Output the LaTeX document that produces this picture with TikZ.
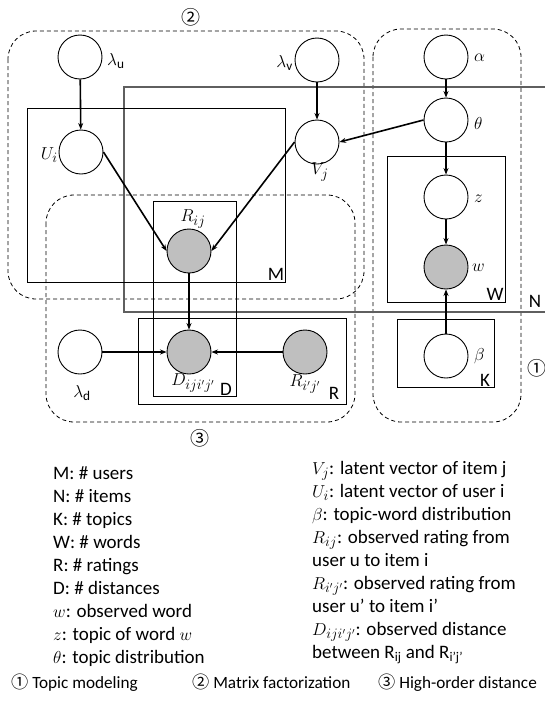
\documentclass[tikz,border=0pt]{standalone}
\usepackage{fontspec}
\setmainfont{Carlito}
\newfontfamily\circfont{Noto Sans CJK SC}
\usetikzlibrary{arrows.meta}
\definecolor{obsgray}{RGB}{191,191,191}
\definecolor{nplate}{RGB}{95,95,95}
\begin{document}
\begin{tikzpicture}[x=1pt,y=-1pt,
  var/.style={circle,draw,line width=0.9pt,minimum size=44pt,inner sep=0pt,fill=white},
  obs/.style={var,fill=obsgray},
  plate/.style={draw,line width=1pt},
  grp/.style={draw,line width=0.8pt,dash pattern=on 4pt off 3pt,rounded corners=28pt},
  edge/.style={line width=1.6pt,-{Stealth[length=6.5pt,width=5pt]}},
  lbl/.style={font=\fontsize{19}{22}\selectfont,inner sep=0pt},
  circ/.style={font=\circfont\fontsize{19}{22}\selectfont,inner sep=0pt},
  legend/.style={font=\fontsize{19}{23}\selectfont,inner sep=0pt,anchor=base west},
  bottom/.style={font=\fontsize{17.2}{21}\selectfont,inner sep=0pt,anchor=base west}
]
\useasboundingbox (0,0) rectangle (544,702);

% groups (dashed)
\draw[grp] (8,31) rectangle (364,299);
\draw[grp] (46,195) rectangle (355,422);
\draw[grp] (373,29) rectangle (521,422);

% plates
\draw[plate,draw=nplate,line width=1.3pt] (560,87) -- (124,87) -- (124,312) -- (560,312);
\draw[plate] (27,108) rectangle (285,282);
\draw[plate] (153,201) rectangle (236,396);
\draw[plate] (138,318) rectangle (346,404);
\draw[plate] (387,156) rectangle (505,302);
\draw[plate] (397,319) rectangle (494,387);

% plate labels
\node[lbl] (lM) at (276,274) {M};
\node[lbl] (lW) at (495,294) {W};
\node[lbl] (lN) at (535,301) {N};
\node[lbl] (lD) at (226,389) {D};
\node[lbl] (lR) at (334,393) {R};
\node[lbl] (lK) at (485,380) {K};

% group labels
\node[circ] (g2) at (191,17) {②};
\node[circ] (g3) at (200,438) {③};
\node[circ] (g1) at (537,368) {①};

% variables
\node[var] (lu) at (80,57) {};
\node[var] (Ui) at (81,152) {};
\node[var] (lv) at (317,60) {};
\node[var] (Vj) at (317,142) {};
\node[var] (alpha) at (446,57) {};
\node[var] (theta) at (446,120) {};
\node[var] (z) at (446,197) {};
\node[obs] (w) at (446,267) {};
\node[var] (beta) at (446,356) {};
\node[obs] (Rij) at (189,251) {};
\node[obs] (D) at (189,352) {};
\node[obs] (Rp) at (305,352) {};
\node[var] (ld) at (80,352) {};

% variable labels
\node[lbl,anchor=west] (tlu) at (107,61) {$\lambda_{\mathrm{u}}$};
\node[lbl,anchor=east] (tlv) at (293,63) {$\lambda_{\mathrm{v}}$};
\node[lbl,anchor=east] (tUi) at (58,155) {$U_i$};
\node[lbl] (tVj) at (320,172) {$V_j$};
\node[lbl,anchor=west] (talpha) at (474,58) {$\alpha$};
\node[lbl,anchor=west] (ttheta) at (474,123) {$\theta$};
\node[lbl,anchor=west] (tz) at (474,199) {$z$};
\node[lbl,anchor=west] (tw) at (472,268) {$w$};
\node[lbl,anchor=west] (tbeta) at (474,356) {$\beta$};
\node[lbl] (tRij) at (193,219) {$R_{ij}$};
\node[lbl] (tD) at (193,383) {$D_{iji'j'}$};
\node[lbl] (tRp) at (305,384) {$R_{i'j'}$};
\node[lbl] (tld) at (82,393) {$\lambda_{\mathrm{d}}$};

% edges
\draw[edge] (lu) -- (Ui);
\draw[edge] (lv) -- (Vj);
\draw[edge] (alpha) -- (theta);
\draw[edge] (theta.west) -- (Vj.east);
\draw[edge] (theta) -- (z);
\draw[edge] (z) -- (w);
\draw[edge] (beta) -- (w);
\draw[edge] (Ui.east) -- (Rij.west);
\draw[edge] (Vj.west) -- (Rij.east);
\draw[edge] (Rij) -- (D);
\draw[edge] (ld) -- (D);
\draw[edge] (Rp) -- (D);

% legend left
\node[legend] (a1) at (53,479) {M: \# users};
\node[legend] (a2) at (53,502) {N: \# items};
\node[legend] (a3) at (53,525) {K: \# topics};
\node[legend] (a4) at (53,548) {W: \# words};
\node[legend] (a5) at (53,571) {R: \# ratings};
\node[legend] (a6) at (53,594) {D: \# distances};
\node[legend] (a7) at (53,617) {$w$: observed word};
\node[legend] (a8) at (53,640) {$z$: topic of word $w$};
\node[legend] (a9) at (53,663) {$\theta$: topic distribution};

% legend right
\node[legend] (b1) at (312,474) {$V_j$: latent vector of item j};
\node[legend] (b2) at (312,497) {$U_i$: latent vector of user i};
\node[legend] (b3) at (312,520) {$\beta$: topic-word distribution};
\node[legend] (b4) at (312,543) {$R_{ij}$: observed rating from};
\node[legend] (b5) at (312,566) {user u to item i};
\node[legend] (b6) at (312,589) {$R_{i'j'}$: observed rating from};
\node[legend] (b7) at (312,612) {user u’ to item i’};
\node[legend] (b8) at (312,635) {$D_{iji'j'}$: observed distance};
\node[legend] (b9) at (312,658) {between R\textsubscript{ij} and R\textsubscript{i’j’}};

% bottom line
\node[bottom] (c1) at (11,688) {{\circfont ①} Topic modeling};
\node[bottom] (c2) at (192,688) {{\circfont ②} Matrix factorization};
\node[bottom] (c3) at (378,688) {{\circfont ③} High-order distance};
\end{tikzpicture}
\end{document}
